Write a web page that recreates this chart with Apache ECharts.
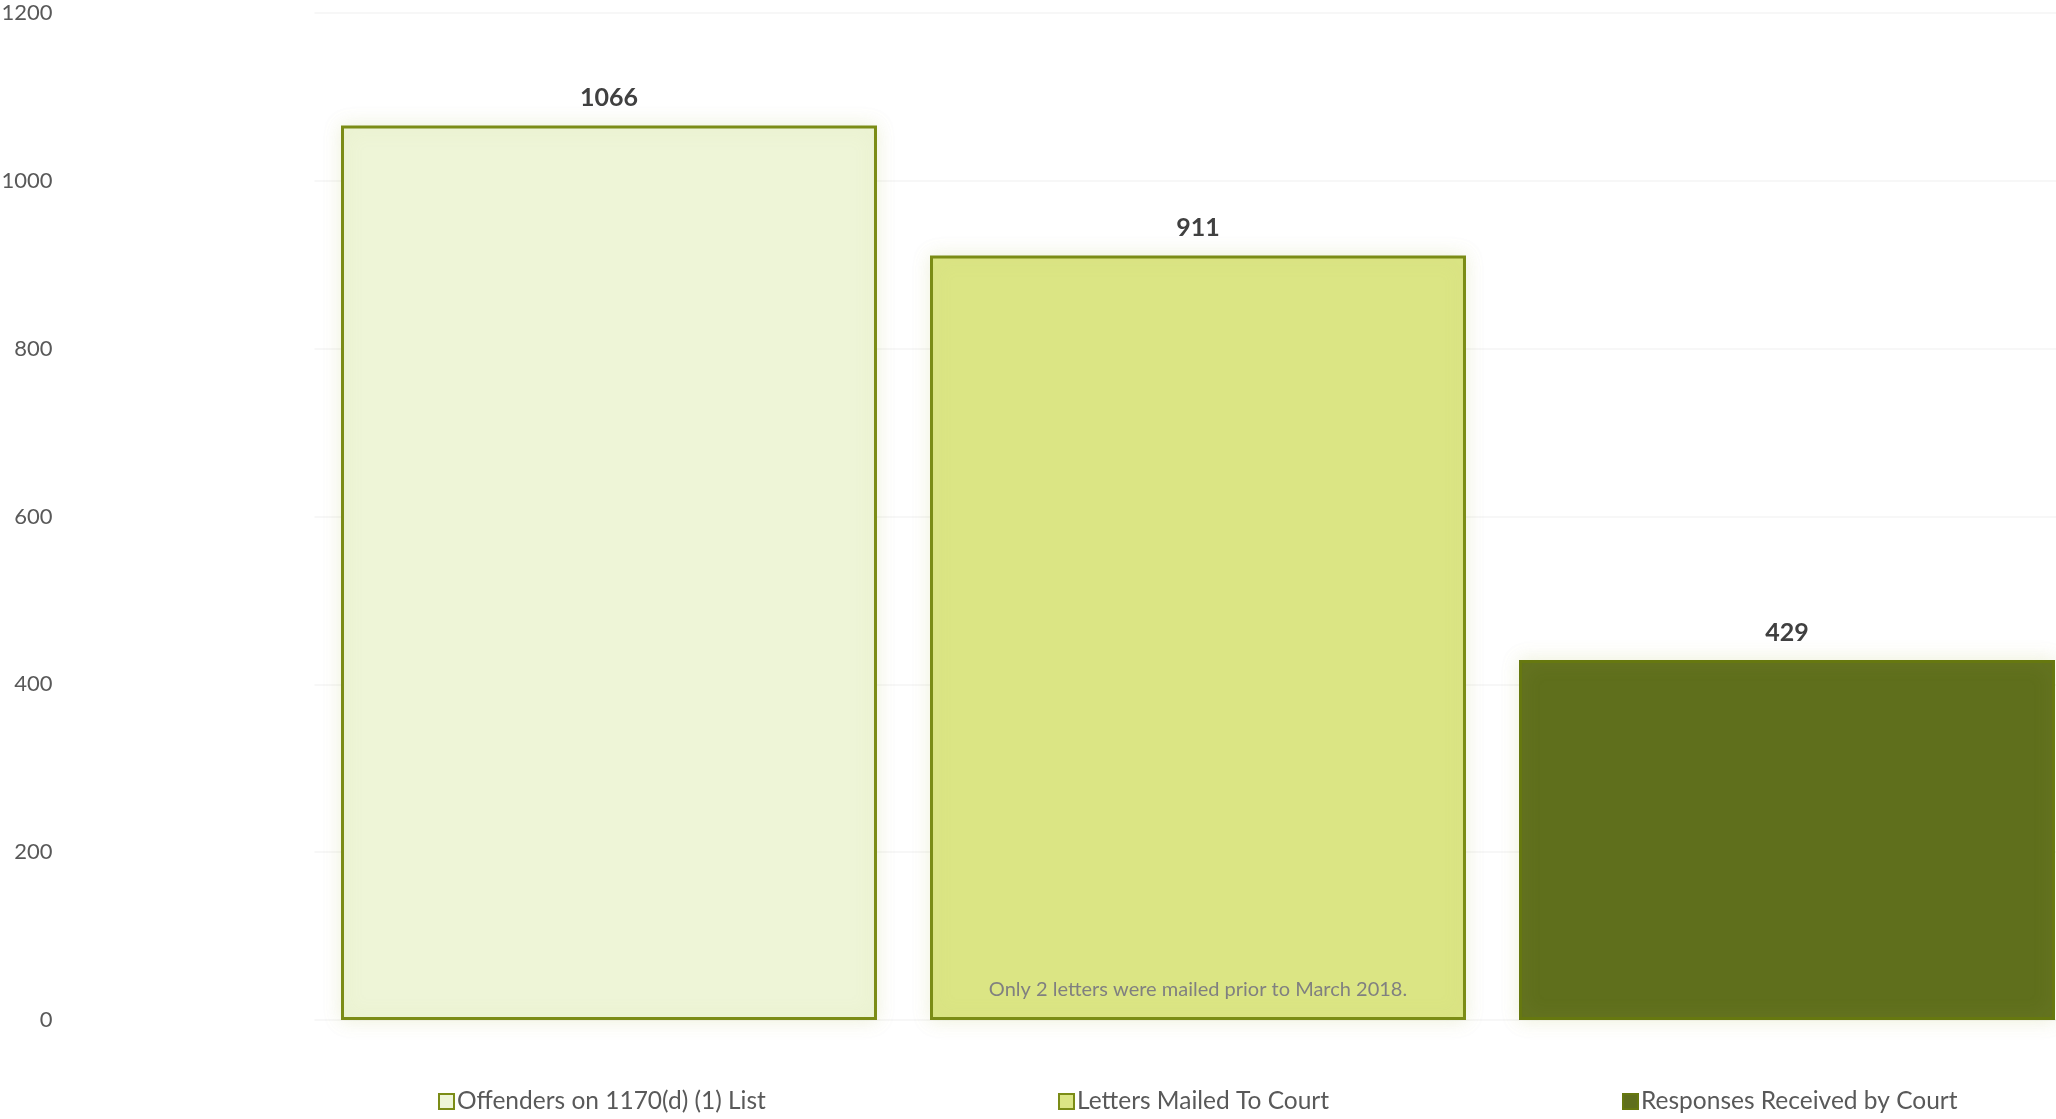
<!DOCTYPE html>
<html>
<head>
<meta charset="utf-8">
<script src="https://cdn.jsdelivr.net/npm/echarts@6/dist/echarts.min.js"></script>
<style>
html,body{margin:0;padding:0;background:#fff;}
#chart{width:2056px;height:1119px;}
</style>
</head>
<body>
<div id="chart"></div>
<script>
const seriesNames = ['Offenders on 1170(d) (1) List', 'Letters Mailed To Court', 'Responses Received by Court'];
const values = [1066, 911, 429];
const yTicks = [0, 200, 400, 600, 800, 1000, 1200];
const note = 'Only 2 letters were mailed prior to March 2018.';

const fills = ['#eef5d7', '#dbe584', '#5f6f1c'];
const borders = ['#7b8c16', '#7b8c16', '#66780f'];
const FONT = 'Lato, "Liberation Sans", sans-serif';

const chart = echarts.init(document.getElementById('chart'));

const series = seriesNames.map((name, i) => ({
  name: name,
  type: 'bar',
  stack: 'all',
  barWidth: '91%',
  data: values.map((v, j) => (j === i ? v : '-')),
  itemStyle: {
    color: fills[i],
    borderColor: borders[i],
    borderWidth: 3,
    shadowColor: 'rgba(190,205,120,0.25)',
    shadowBlur: 18
  },
  label: {
    show: true,
    position: 'top',
    distance: 15,
    fontFamily: FONT,
    fontSize: 25,
    fontWeight: 'bold',
    color: '#404040'
  }
}));

const legendLefts = [433, 1053, 1617];
const legends = seriesNames.map((name, i) => ({
  data: [name],
  left: legendLefts[i],
  top: 1084,
  icon: 'rect',
  itemWidth: 15,
  itemHeight: 15,
  itemGap: 0,
  selectedMode: false,
  textStyle: { fontFamily: FONT, fontSize: 24.5, color: '#595959', padding: [0, 0, 0, -2] }
}));

chart.setOption({
  animation: false,
  backgroundColor: '#ffffff',
  grid: { left: 314.5, width: 1767, top: 13, bottom: 99, containLabel: false, outerBoundsMode: 'none' },
  legend: legends,
  xAxis: {
    type: 'category',
    data: seriesNames,
    axisLine: { show: false },
    axisTick: { show: false },
    axisLabel: { show: false },
    splitLine: { show: false }
  },
  yAxis: {
    type: 'value',
    min: yTicks[0],
    max: yTicks[yTicks.length - 1],
    interval: yTicks[1] - yTicks[0],
    axisLine: { show: false },
    axisTick: { show: false },
    axisLabel: { margin: 262, fontFamily: FONT, fontSize: 22, color: '#595959', formatter: v => String(v) },
    splitLine: { show: true, lineStyle: { color: '#f7f7f7', width: 2 } }
  },
  series: series,
  graphic: [{
    type: 'text',
    z: 100,
    x: 1198,
    y: 990,
    style: {
      text: note,
      fontFamily: FONT,
      fontSize: 20,
      fill: '#808080',
      align: 'center',
      verticalAlign: 'middle'
    }
  }]
});
</script>
</body>
</html>
